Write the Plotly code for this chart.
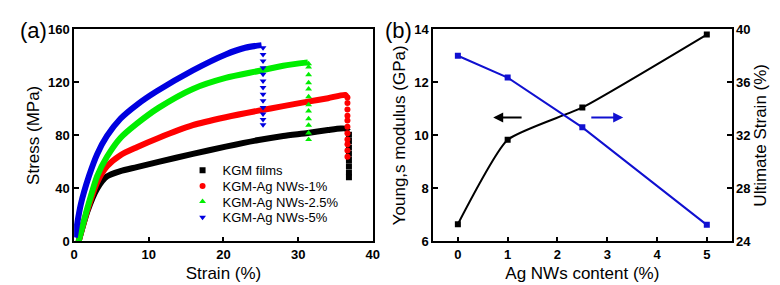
import plotly.graph_objects as go

# ---------------- Panel (a): stress-strain curves ----------------
series_names = ["KGM films", "KGM-Ag NWs-1%", "KGM-Ag NWs-2.5%", "KGM-Ag NWs-5%"]
series_colors = ["#000000", "#ff0000", "#00ee00", "#0000e0"]
series_symbols = ["square", "circle", "triangle-up", "triangle-down"]

# continuous part of each curve (strain %, stress MPa)
kgm_strain = [0.6, 1.8, 3.1, 4.4, 6.2, 8.4, 11.3, 15.9, 20.3, 24.7, 28.0, 31.3, 34.0, 35.7, 36.4, 36.7]
kgm_stress = [0.0, 23.0, 40.0, 49.0, 53.0, 56.0, 60.0, 66.0, 71.5, 76.5, 79.5, 81.8, 84.0, 85.2, 85.0, 83.0]

ag1_strain = [0.6, 1.8, 3.1, 4.4, 6.2, 8.4, 11.3, 15.9, 20.3, 24.7, 28.0, 31.3, 34.0, 36.3, 36.5]
ag1_stress = [0.0, 24.0, 44.7, 56.6, 65.0, 71.0, 78.0, 87.6, 93.6, 98.6, 102.0, 105.4, 108.0, 110.5, 109.0]

ag25_strain = [0.6, 1.8, 3.1, 4.4, 6.2, 8.4, 11.3, 15.9, 20.3, 24.7, 28.0, 31.3]
ag25_stress = [0.0, 25.7, 49.5, 63.8, 78.0, 88.8, 100.7, 115.0, 123.3, 128.5, 132.5, 135.0]

ag5_strain = [0.1, 0.9, 2.0, 3.1, 4.4, 6.2, 8.4, 11.0, 15.9, 20.3, 22.9, 25.1]
ag5_stress = [3.0, 28.0, 49.5, 66.0, 79.5, 92.5, 103.0, 113.0, 129.0, 141.0, 146.0, 148.0]

# markers of the fracture drop for each curve
kgm_drop_strain = [36.8] * 8
kgm_drop_stress = [80.4, 75.7, 70.9, 66.1, 61.4, 56.6, 51.9, 48.3]
ag1_drop_strain = [36.6] * 11
ag1_drop_stress = [108.5, 104.3, 99.5, 94.7, 91.1, 86.4, 81.6, 76.9, 73.3, 68.6, 63.8]
ag25_drop_strain = [31.4] * 12
ag25_drop_stress = [134.0, 131.6, 125.6, 119.7, 115.0, 109.0, 103.0, 98.3, 92.4, 87.6, 81.7, 76.9]
ag5_drop_strain = [25.3] * 13
ag5_drop_stress = [146.0, 141.0, 136.0, 131.0, 126.0, 121.0, 116.0, 111.0, 106.0, 101.0, 96.0, 92.0, 88.0]

# ---------------- Panel (b): modulus and ultimate strain ----------------
content = [0, 1, 2.5, 5]
youngs_modulus = [6.65, 9.83, 11.05, 13.8]
ultimate_strain = [38.0, 36.35, 32.6, 25.25]

a_x_ticks = [0, 10, 20, 30, 40]
a_y_ticks = [0, 40, 80, 120, 160]
b_x_ticks = [0, 1, 2, 3, 4, 5]
b_y1_ticks = [6, 8, 10, 12, 14]
b_y2_ticks = [24, 28, 32, 36, 40]

FONT = "Liberation Sans, Arial, sans-serif"

fig = go.Figure()

curves = [
    (kgm_strain, kgm_stress, kgm_drop_strain, kgm_drop_stress),
    (ag1_strain, ag1_stress, ag1_drop_strain, ag1_drop_stress),
    (ag25_strain, ag25_stress, ag25_drop_strain, ag25_drop_stress),
    (ag5_strain, ag5_stress, ag5_drop_strain, ag5_drop_stress),
]
legend_ids = ["legend", "legend2", "legend3", "legend4"]
for i, (sx, sy, dx, dy) in enumerate(curves):
    fig.add_trace(go.Scatter(
        x=sx, y=sy, mode="lines", line=dict(color=series_colors[i], width=6, shape="spline", smoothing=0.7),
        showlegend=False, hoverinfo="skip", xaxis="x", yaxis="y"))
for i, (sx, sy, dx, dy) in enumerate(curves):
    fig.add_trace(go.Scatter(
        x=dx, y=dy, mode="markers", name=series_names[i], legend=legend_ids[i],
        marker=dict(color=series_colors[i], symbol=series_symbols[i], size=6, line=dict(width=0)),
        xaxis="x", yaxis="y"))

fig.add_trace(go.Scatter(
    x=content, y=youngs_modulus, mode="lines+markers",
    line=dict(color="#000000", width=2, shape="spline", smoothing=0.5),
    marker=dict(symbol="square", size=6, color="#000000"),
    showlegend=False, xaxis="x2", yaxis="y2"))
fig.add_trace(go.Scatter(
    x=content, y=ultimate_strain, mode="lines+markers",
    line=dict(color="#1010d0", width=2),
    marker=dict(symbol="square", size=6, color="#1010d0"),
    showlegend=False, xaxis="x2", yaxis="y3"))

axis_common = dict(
    showgrid=False, zeroline=False, showline=True, linecolor="black", linewidth=1.5,
    ticks="inside", ticklen=5, tickwidth=1.5, tickcolor="black",
    tickfont=dict(family=FONT, size=13, color="black", weight="bold"),
)
title_font = dict(family=FONT, size=17, color="black")

legend_rows_px = [164, 180.5, 197, 213.5]
legend_layout = {}
for i, lid in enumerate(legend_ids):
    legend_layout[lid] = dict(
        x=173/780, y=1 - legend_rows_px[i]/285, xanchor="left", yanchor="middle",
        bgcolor="rgba(0,0,0,0)", font=dict(family=FONT, size=13, color="black"),
        itemwidth=30, borderwidth=0)

fig.update_layout(
    width=780, height=285,
    margin=dict(l=0, r=0, t=0, b=0),
    paper_bgcolor="white", plot_bgcolor="white",
    font=dict(family=FONT, color="black"),
    xaxis=dict(domain=[63/780, 366/780], range=[0, 40], tickvals=a_x_ticks, mirror=True,
               anchor="y", title=dict(text="Strain (%)", font=title_font, standoff=6), **axis_common),
    yaxis=dict(domain=[1-239/285, 1-15/285], range=[0, 160], tickvals=a_y_ticks, mirror=True,
               anchor="x", title=dict(text="Stress (MPa)", font=title_font, standoff=4), **axis_common),
    xaxis2=dict(domain=[427/780, 730/780], range=[-0.5, 5.5], tickvals=b_x_ticks, mirror=True,
                anchor="y2", title=dict(text="Ag NWs content (%)", font=title_font, standoff=6), **axis_common),
    yaxis2=dict(domain=[1-239/285, 1-15/285], range=[6, 14], tickvals=b_y1_ticks,
                anchor="x2", title=dict(text="Young,s modulus (GPa)", font=title_font, standoff=4), **axis_common),
    yaxis3=dict(range=[24, 40], tickvals=b_y2_ticks, overlaying="y2", side="right",
                anchor="x2", title=dict(text="Ultimate Strain (%)", font=title_font, standoff=4), **axis_common),
    annotations=[
        dict(text="(a)", x=6/780, y=1-16/285, xref="paper", yref="paper", xanchor="left", yanchor="middle",
             showarrow=False, font=dict(family=FONT, size=22, color="black")),
        dict(text="(b)", x=376/780, y=1-16/285, xref="paper", yref="paper", xanchor="left", yanchor="middle",
             showarrow=False, font=dict(family=FONT, size=22, color="black")),
        dict(x=0.71, y=10.67, ax=1.31, ay=10.67, xref="x2", yref="y2", axref="x2", ayref="y2",
             text="", showarrow=True, arrowhead=2, arrowsize=1, arrowwidth=2, arrowcolor="black"),
        dict(x=3.32, y=10.67, ax=2.65, ay=10.67, xref="x2", yref="y2", axref="x2", ayref="y2",
             text="", showarrow=True, arrowhead=2, arrowsize=1, arrowwidth=2, arrowcolor="#1010d0"),
    ],
    **legend_layout,
)

fig.write_html("out.html")
